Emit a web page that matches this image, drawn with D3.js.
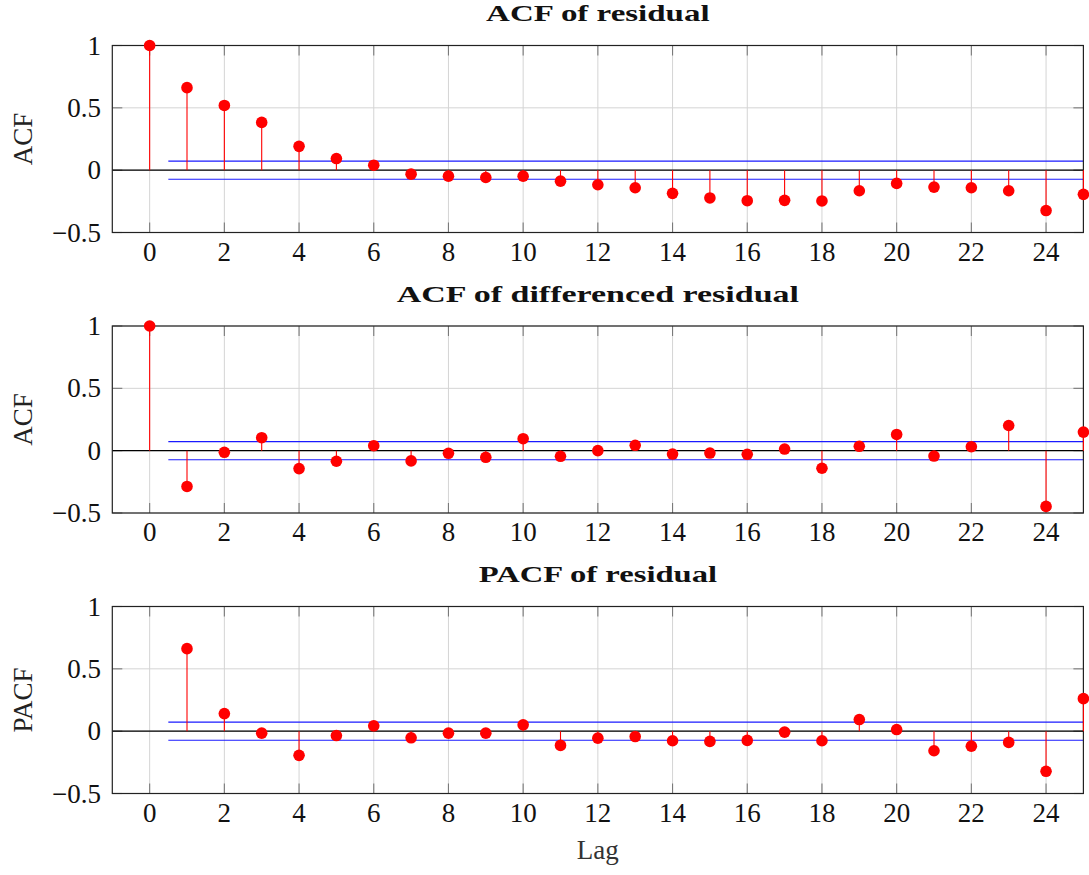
<!DOCTYPE html>
<html>
<head>
<meta charset="utf-8">
<script src="https://cdn.jsdelivr.net/npm/d3@7"></script>
<style>
  html, body { margin: 0; padding: 0; background: #fff; }
  svg { display: block; }
  text { font-family: "Liberation Serif", "Times New Roman", serif; }
</style>
</head>
<body>
<svg id="chart" width="1089" height="875"></svg>
<script>
// Sample autocorrelations of the residual series
const lagsAcf = d3.range(0, 26);
const lagsPacf = d3.range(1, 26);

const acfResidual = [
  1.0, 0.662, 0.519, 0.383, 0.191, 0.093, 0.040, -0.032, -0.048, -0.059, -0.048,
  -0.088, -0.117, -0.141, -0.186, -0.223, -0.245, -0.242, -0.247, -0.165, -0.106,
  -0.136, -0.141, -0.165, -0.324, -0.194
];

const acfDiffResidual = [
  1.0, -0.287, -0.013, 0.104, -0.144, -0.085, 0.040, -0.082, -0.021, -0.053, 0.096,
  -0.045, 0.0, 0.043, -0.027, -0.019, -0.029, 0.013, -0.141, 0.035, 0.130,
  -0.043, 0.032, 0.202, -0.447, 0.149
];

const pacfResidual = [
  0.662, 0.141, -0.016, -0.194, -0.035, 0.043, -0.053, -0.016, -0.016, 0.051,
  -0.114, -0.056, -0.043, -0.077, -0.082, -0.074, -0.008, -0.077, 0.093, 0.013,
  -0.157, -0.120, -0.090, -0.322, 0.261
];

// 95% significance band
const confBound = 0.073;

const xTicks = d3.range(0, 25, 2);
const yTicks = [-0.5, 0, 0.5, 1];

const panels = [
  { title: "ACF of residual", ylabel: "ACF", lags: lagsAcf, values: acfResidual, top: 45.5 },
  { title: "ACF of differenced residual", ylabel: "ACF", lags: lagsAcf, values: acfDiffResidual, top: 326 },
  { title: "PACF of residual", ylabel: "PACF", lags: lagsPacf, values: pacfResidual, top: 606.5 }
];

const svg = d3.select("#chart");
const left = 112.3, right = 1083.4, plotH = 187;
const fontSize = 27;
const tickLen = 10;

const x = d3.scaleLinear().domain([-1, 25]).range([left, right]);
const fmt = v => (v < 0 ? "\u2212" : "") + Math.abs(v);

panels.forEach(p => {
  const y = d3.scaleLinear().domain([-0.5, 1]).range([p.top + plotH, p.top]);
  const g = svg.append("g");

  // grid
  g.append("g").selectAll("line").data(xTicks).join("line")
    .attr("x1", d => x(d)).attr("x2", d => x(d))
    .attr("y1", y(-0.5)).attr("y2", y(1))
    .attr("stroke", "#d4d4d4").attr("stroke-width", 1);
  g.append("g").selectAll("line").data(yTicks).join("line")
    .attr("x1", left).attr("x2", right)
    .attr("y1", d => y(d)).attr("y2", d => y(d))
    .attr("stroke", "#d4d4d4").attr("stroke-width", 1);

  // inward tick marks on all four sides
  const tk = g.append("g").attr("stroke", "#7a7a7a").attr("stroke-width", 1.1);
  xTicks.forEach(t => {
    tk.append("line").attr("x1", x(t)).attr("x2", x(t)).attr("y1", y(-0.5)).attr("y2", y(-0.5) - tickLen);
    tk.append("line").attr("x1", x(t)).attr("x2", x(t)).attr("y1", y(1)).attr("y2", y(1) + tickLen);
  });
  yTicks.forEach(t => {
    tk.append("line").attr("x1", left).attr("x2", left + tickLen).attr("y1", y(t)).attr("y2", y(t));
    tk.append("line").attr("x1", right).attr("x2", right - tickLen).attr("y1", y(t)).attr("y2", y(t));
  });

  // zero line and significance band
  g.append("line")
    .attr("x1", x(-1)).attr("x2", x(25)).attr("y1", y(0)).attr("y2", y(0))
    .attr("stroke", "#000").attr("stroke-width", 1.2);
  [confBound, -confBound].forEach(b => {
    g.append("line")
      .attr("x1", x(0.5)).attr("x2", x(25)).attr("y1", y(b)).attr("y2", y(b))
      .attr("stroke", "#1a1aff").attr("stroke-width", 1.2);
  });

  // axis box
  g.append("rect")
    .attr("x", left).attr("y", p.top).attr("width", right - left).attr("height", plotH)
    .attr("fill", "none").attr("stroke", "#222").attr("stroke-width", 1.2);

  // stems
  const pts = p.lags.map((l, i) => ({ lag: l, v: p.values[i] }));
  g.append("g").selectAll("line").data(pts).join("line")
    .attr("x1", d => x(d.lag)).attr("x2", d => x(d.lag))
    .attr("y1", y(0)).attr("y2", d => y(d.v))
    .attr("stroke", "#ff0000").attr("stroke-width", 1.1);
  g.append("g").selectAll("circle").data(pts).join("circle")
    .attr("cx", d => x(d.lag)).attr("cy", d => y(d.v)).attr("r", 5.8)
    .attr("fill", "#ff0000");

  // tick labels
  g.append("g").selectAll("text").data(xTicks).join("text")
    .attr("x", d => x(d)).attr("y", y(-0.5) + 28)
    .attr("text-anchor", "middle").attr("font-size", fontSize).attr("fill", "#111")
    .text(d => d);
  g.append("g").selectAll("text").data(yTicks).join("text")
    .attr("x", 101).attr("y", d => y(d) + 9)
    .attr("text-anchor", "end").attr("font-size", fontSize).attr("fill", "#111")
    .text(fmt);

  // y label
  const cy = p.top + plotH / 2;
  g.append("text")
    .attr("transform", `translate(32,${cy}) rotate(-90)`)
    .attr("text-anchor", "middle").attr("font-size", fontSize).attr("fill", "#222")
    .text(p.ylabel);

  // title
  const tw = p.title.length * 14.9;
  g.append("text")
    .attr("x", (left + right) / 2 - tw / 2).attr("y", p.top - 24.5)
    .attr("font-size", 24).attr("font-weight", "bold").attr("fill", "#111")
    .attr("textLength", tw).attr("lengthAdjust", "spacingAndGlyphs")
    .text(p.title);
});

// shared x label
svg.append("text")
  .attr("x", (left + right) / 2).attr("y", 859)
  .attr("text-anchor", "middle").attr("font-size", fontSize).attr("fill", "#333")
  .text("Lag");
</script>
</body>
</html>
